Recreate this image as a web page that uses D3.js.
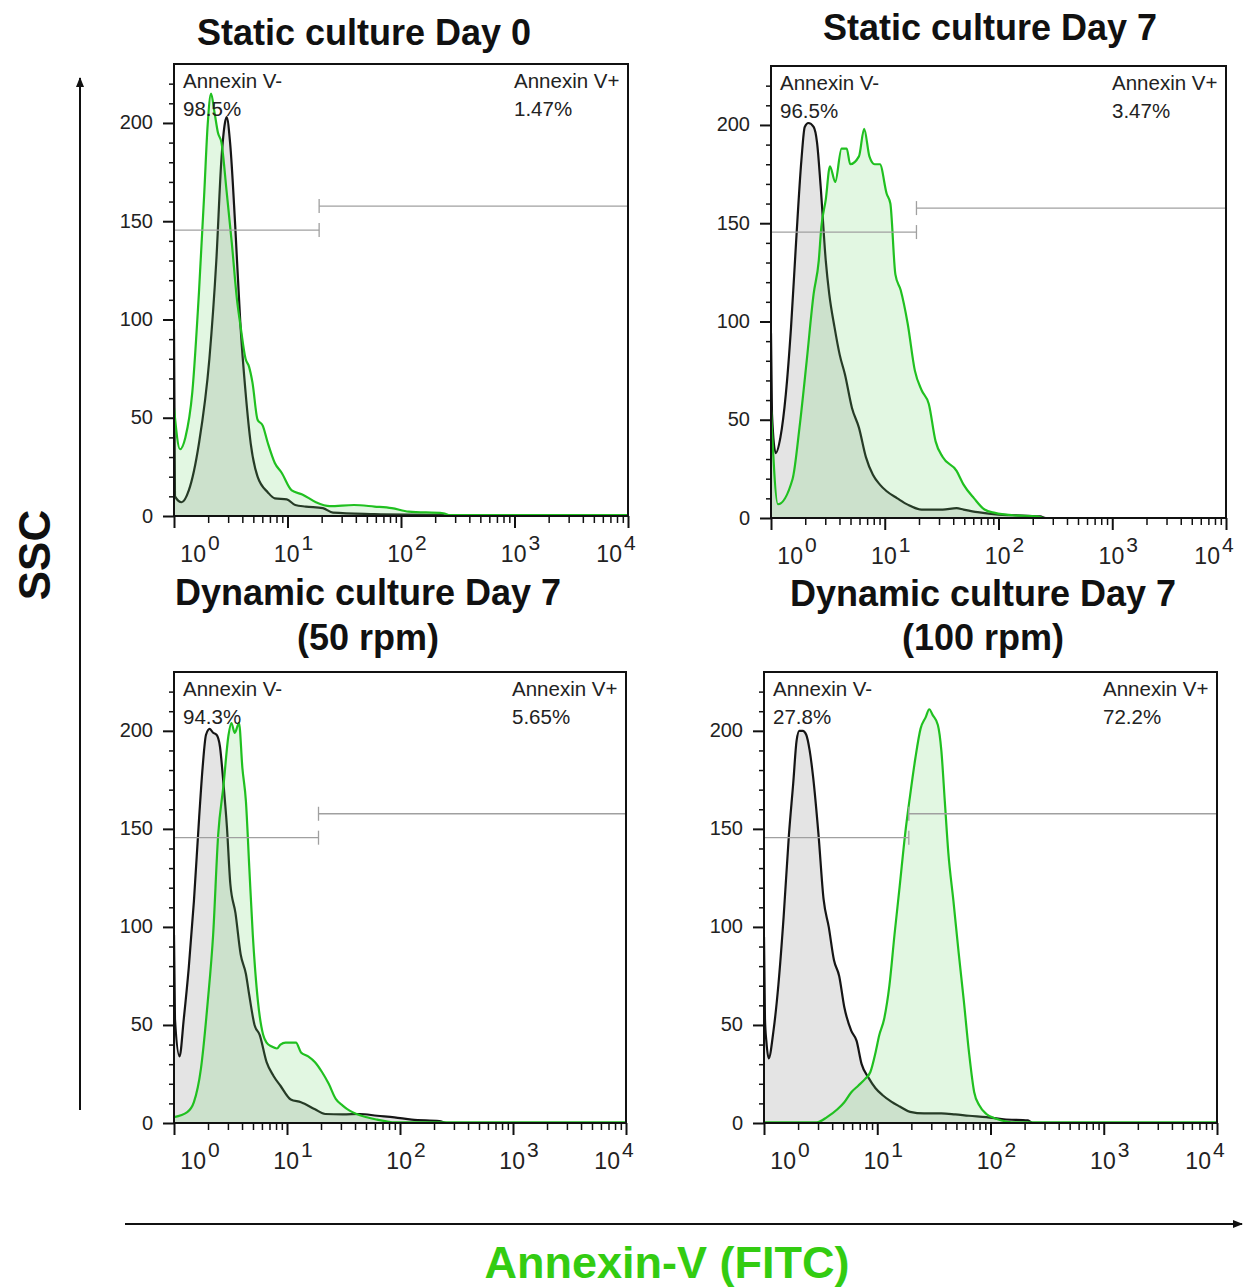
<!DOCTYPE html>
<html>
<head>
<meta charset="utf-8">
<script src="https://cdnjs.cloudflare.com/ajax/libs/d3/7.8.5/d3.min.js"></script>
<style>
  body { margin: 0; background: #fff; }
  text { font-family: "Liberation Sans", Arial, sans-serif; }
</style>
</head>
<body>
<script>
// ---- data (FITC intensity, count) ----
const panelTitles = [
  ["Static culture Day 0"],
  ["Static culture Day 7"],
  ["Dynamic culture Day 7", "(50 rpm)"],
  ["Dynamic culture Day 7", "(100 rpm)"]
];
const negLabel = "Annexin V-";
const posLabel = "Annexin V+";
const negPct = ["98.5%", "96.5%", "94.3%", "27.8%"];
const posPct = ["1.47%", "3.47%", "5.65%", "72.2%"];

const xTickExps = [0, 1, 2, 3, 4];
const yMajorTicks = [0, 50, 100, 150, 200];
const yMinorTicks = d3.range(10, 230, 10).filter(v => v % 50 !== 0);

// gate markers (marker split point and the two gate heights)
const gateSplit = 19;
const gateNegY = 145.5;
const gatePosY = 157.7;

const controlDay0 = [[1.0,95],[1.02,10],[1.17,7],[1.35,13],[1.66,37],[2.05,80],[2.36,130],[2.62,182],[2.81,200],[2.91,203],[3.12,190],[3.46,148],[3.85,97],[4.27,63],[4.74,37],[5.45,20],[6.72,12],[7.73,9],[9.86,8.5],[11.7,5.6],[14.5,4.8],[20.5,4],[25.2,1.7],[58.5,1],[236,0.5],[260,0],[10000,0]];
const stainedDay0 = [[1.0,55],[1.13,34],[1.26,40],[1.45,63],[1.66,114],[1.85,165],[1.98,199],[2.12,215],[2.28,205],[2.44,195],[2.62,190],[2.91,165],[3.23,139],[3.59,110],[3.85,97],[4.27,80],[4.58,76],[4.91,68],[5.45,49],[6.05,46],[6.72,37],[7.73,27],[8.88,22],[10.9,13],[13.5,11],[17.8,7],[23.6,5],[38.5,5.6],[58.4,4.8],[82.8,4],[117,2.2],[236,1.4],[270,0.4],[10000,0.4]];

const controlStatic7 = [[1.0,94],[1.02,53],[1.10,33],[1.21,41],[1.35,63],[1.50,97],[1.66,140],[1.85,182],[1.98,199],[2.13,201],[2.37,199],[2.54,191],[2.73,169],[3.03,131],[3.25,114],[3.62,97],[4.02,83],[4.47,73],[5.15,56],[5.93,46],[6.83,31],[7.87,22],[9.06,17],[10.4,13.6],[12.9,10],[15.9,6.8],[21.1,4.3],[32.3,4.3],[42.8,5],[49.3,4.3],[65.5,3],[100,1.7],[133,1.4],[233,0.8],[260,0],[10000,0]];
const stainedStatic7 = [[1.0,55],[1.15,7],[1.55,20],[1.78,46],[2.06,80],[2.37,114],[2.63,131],[2.77,148],[3.03,162],[3.30,179],[3.67,171],[4.17,188],[4.63,188],[4.97,180],[5.93,184],[6.59,198],[7.33,184],[8.15,180],[9.06,180],[10.4,165],[11.2,160],[12.4,124],[13.8,116],[15.9,99],[18.4,75],[21.1,65],[24.4,58],[28.0,39],[32.3,31],[42.8,24],[49.3,17],[61.0,10],[75.4,4.3],[93.1,2.6],[133,1.4],[217,0.9],[250,0],[10000,0]];

const controlDyn50 = [[1.0,96],[1.02,53],[1.12,34],[1.22,53],[1.35,79],[1.50,113],[1.67,156],[1.79,181],[1.92,198],[2.07,201],[2.22,199],[2.38,198],[2.55,192],[2.74,173],[2.94,151],[3.15,122],[3.50,107],[3.89,86],[4.33,76],[4.64,65],[5.16,50],[5.73,45],[6.60,31],[7.60,24],[8.75,19],[10.8,12],[13.3,10.6],[17.7,7],[21.8,4.6],[31.1,4.4],[44.2,4.6],[62.8,3.7],[89.3,2.9],[127,1.7],[223,1],[260,0],[10000,0]];
const stainedDyn50 = [[1.0,3],[1.31,5.5],[1.50,10.6],[1.73,27.6],[1.99,62],[2.22,96],[2.46,147],[2.74,172],[3.04,198],[3.22,204],[3.45,199],[3.76,204],[4.03,181],[4.33,164],[4.64,130],[4.98,96],[5.53,62],[6.15,45],[6.60,41],[7.33,39],[8.15,38],[8.75,40],[9.72,41],[12.0,41],[13.3,36],[15.4,34],[17.7,31],[20.4,26],[23.4,20],[27.0,12.3],[31.1,8.9],[35.8,6.3],[41.2,4.6],[50.9,2.9],[62.8,1.7],[77.6,0.7],[90,0.3],[10000,0.3]];

const controlDyn100 = [[1.0,95],[1.02,53],[1.05,41.5],[1.10,33],[1.21,46.6],[1.34,70.5],[1.49,105],[1.66,147],[1.81,173],[1.94,195],[2.05,200],[2.20,200],[2.36,198],[2.53,190],[2.72,176],[3.02,148],[3.36,114],[3.73,100],[4.15,83],[4.61,75],[5.12,59],[5.90,47],[6.56,42],[7.28,30],[8.39,23],[9.66,17.7],[11.1,14.3],[13.3,10.9],[15.8,8.4],[19.5,5.7],[25.9,4.9],[36.8,4.9],[48.8,4.4],[64.6,3.7],[91.9,3],[131,1.9],[214,1.3],[235,0],[10000,0]];
const stainedDyn100 = [[1.0,0.3],[2.92,0.3],[3.60,3],[4.45,7],[5.12,10.6],[5.90,15.7],[6.79,19],[7.82,22.5],[8.69,26],[9.66,36],[10.4,44.6],[11.5,53],[12.8,70],[14.2,96],[15.8,121],[17.6,147],[19.5,167],[21.7,186],[24.1,201],[26.8,207],[28.8,211],[30.9,208],[34.3,203],[36.8,190],[39.5,164],[42.4,138],[47.1,113],[52.3,87],[58.2,62],[64.6,36],[71.8,15.7],[79.8,8.9],[91.9,4.6],[114,2],[140,0.7],[160,0.3],[10000,0.3]];

const controls = [controlDay0, controlStatic7, controlDyn50, controlDyn100];
const stained = [stainedDay0, stainedStatic7, stainedDyn50, stainedDyn100];

// ---- layout ----
const W = 1244, H = 1288;
const frames = [
  { x: 174, y: 64,  w: 454, h: 452, tx: 364, ty: [45] },
  { x: 771, y: 66,  w: 455, h: 452, tx: 990, ty: [40] },
  { x: 174, y: 672, w: 452, h: 451, tx: 368, ty: [605, 650] },
  { x: 764, y: 672, w: 453, h: 451, tx: 983, ty: [606, 650] }
];
const green = "#20c020";

const svg = d3.select("body").append("svg")
  .attr("width", W)
  .attr("height", H);

const defs = svg.append("defs");
defs.append("marker")
  .attr("id", "arrow")
  .attr("viewBox", "0 0 10 10")
  .attr("refX", 9).attr("refY", 5)
  .attr("markerWidth", 5).attr("markerHeight", 5)
  .attr("orient", "auto")
  .append("path")
  .attr("d", "M0,1 L10,5 L0,9 z")
  .attr("fill", "#111");

frames.forEach((f, i) => {
  const x = d3.scaleLog().domain([1, 1e4]).range([f.x, f.x + f.w]);
  const y = d3.scaleLinear().domain([0, 230]).range([f.y + f.h, f.y]);

  const g = svg.append("g");

  defs.append("clipPath").attr("id", "clip" + i)
    .append("rect").attr("x", f.x).attr("y", f.y).attr("width", f.w).attr("height", f.h);

  // title
  panelTitles[i].forEach((t, j) => {
    g.append("text")
      .attr("x", f.tx).attr("y", f.ty[j])
      .attr("text-anchor", "middle")
      .style("font-size", "36px").style("font-weight", "bold")
      .attr("fill", "#111")
      .text(t);
  });

  const plot = g.append("g").attr("clip-path", `url(#clip${i})`);

  const area = d3.area()
    .x(d => x(d[0]))
    .y0(y(0))
    .y1(d => y(d[1]))
    .curve(d3.curveMonotoneX);
  const line = d3.line()
    .x(d => x(d[0]))
    .y(d => y(d[1]))
    .curve(d3.curveMonotoneX);

  plot.append("path").datum(controls[i])
    .attr("d", area).attr("fill", "#e4e4e4");
  plot.append("path").datum(controls[i])
    .attr("d", line).attr("fill", "none")
    .attr("stroke", "#151515").attr("stroke-width", 2.2);
  plot.append("path").datum(stained[i])
    .attr("d", area).attr("fill", "rgb(110,215,110)").attr("fill-opacity", 0.2);
  plot.append("path").datum(stained[i])
    .attr("d", line).attr("fill", "none")
    .attr("stroke", green).attr("stroke-width", 2.2);

  // gate markers
  const gate = g.append("g").attr("stroke", "#a0a0a0").attr("stroke-width", 1.3);
  gate.append("line")
    .attr("x1", x(1)).attr("x2", x(gateSplit))
    .attr("y1", y(gateNegY)).attr("y2", y(gateNegY));
  gate.append("line")
    .attr("x1", x(gateSplit)).attr("x2", x(gateSplit))
    .attr("y1", y(gateNegY) - 7).attr("y2", y(gateNegY) + 7);
  gate.append("line")
    .attr("x1", x(gateSplit)).attr("x2", x(1e4))
    .attr("y1", y(gatePosY)).attr("y2", y(gatePosY));
  gate.append("line")
    .attr("x1", x(gateSplit)).attr("x2", x(gateSplit))
    .attr("y1", y(gatePosY) - 7).attr("y2", y(gatePosY) + 7);

  // frame
  g.append("rect")
    .attr("x", f.x).attr("y", f.y).attr("width", f.w).attr("height", f.h)
    .attr("fill", "none").attr("stroke", "#111").attr("stroke-width", 2);

  // y axis
  const yAxis = g.append("g")
    .attr("transform", `translate(${f.x},0)`)
    .call(d3.axisLeft(y).tickValues(yMajorTicks).tickSize(11).tickPadding(10));
  yAxis.select(".domain").remove();
  yAxis.selectAll("line").attr("stroke", "#111").attr("stroke-width", 2);
  yAxis.selectAll("text")
    .style("font-size", "20px").attr("fill", "#222")
    .attr("font-family", "Liberation Sans, Arial, sans-serif")
    .attr("dy", "0.3em");

  const yMinor = g.append("g")
    .attr("transform", `translate(${f.x},0)`)
    .call(d3.axisLeft(y).tickValues(yMinorTicks).tickSize(5).tickFormat(""));
  yMinor.select(".domain").remove();
  yMinor.selectAll("line").attr("stroke", "#111").attr("stroke-width", 1.5);

  // x axis
  const xMinorVals = [];
  for (let k = 0; k < 4; k++) for (let m = 2; m <= 9; m++) xMinorVals.push(m * Math.pow(10, k));
  const xMinor = g.append("g")
    .attr("transform", `translate(0,${f.y + f.h})`)
    .call(d3.axisBottom(x).tickValues(xMinorVals).tickSize(7).tickFormat(""));
  xMinor.select(".domain").remove();
  xMinor.selectAll("line").attr("stroke", "#111").attr("stroke-width", 1.5);

  const xMajor = g.append("g")
    .attr("transform", `translate(0,${f.y + f.h})`)
    .call(d3.axisBottom(x).tickValues(xTickExps.map(k => Math.pow(10, k))).tickSize(12).tickFormat(""));
  xMajor.select(".domain").remove();
  xMajor.selectAll("line").attr("stroke", "#111").attr("stroke-width", 2);

  const labelShift = k => (k === 0 ? 26 : k === 4 ? -12 : 6);
  xTickExps.forEach(k => {
    const t = g.append("text")
      .attr("x", x(Math.pow(10, k)) + labelShift(k))
      .attr("y", f.y + f.h + 46)
      .attr("text-anchor", "middle")
      .style("font-size", "23px")
      .attr("fill", "#222");
    t.append("tspan").text("10");
    t.append("tspan").attr("dy", -12).attr("dx", 2).style("font-size", "21px").text(k);
  });

  // quadrant labels
  const ann = g.append("g").attr("fill", "#222").style("font-size", "20.5px");
  ann.append("text").attr("x", f.x + 9).attr("y", f.y + 24).text(negLabel);
  ann.append("text").attr("x", f.x + 9).attr("y", f.y + 52).text(negPct[i]);
  ann.append("text").attr("x", f.x + f.w - 114).attr("y", f.y + 24).text(posLabel);
  ann.append("text").attr("x", f.x + f.w - 114).attr("y", f.y + 52).text(posPct[i]);
});

// outer axes arrows and labels
svg.append("line")
  .attr("x1", 80).attr("y1", 1110).attr("x2", 80).attr("y2", 78)
  .attr("stroke", "#111").attr("stroke-width", 2)
  .attr("marker-end", "url(#arrow)");
svg.append("line")
  .attr("x1", 125).attr("y1", 1224).attr("x2", 1242).attr("y2", 1224)
  .attr("stroke", "#111").attr("stroke-width", 2)
  .attr("marker-end", "url(#arrow)");

svg.append("text")
  .attr("transform", "translate(50,555) rotate(-90)")
  .attr("text-anchor", "middle")
  .style("font-size", "44px").style("font-weight", "bold")
  .attr("fill", "#111")
  .text("SSC");

svg.append("text")
  .attr("x", 667).attr("y", 1278)
  .attr("text-anchor", "middle")
  .style("font-size", "45px").style("font-weight", "bold")
  .attr("fill", "#33cc11")
  .text("Annexin-V (FITC)");
</script>
</body>
</html>
